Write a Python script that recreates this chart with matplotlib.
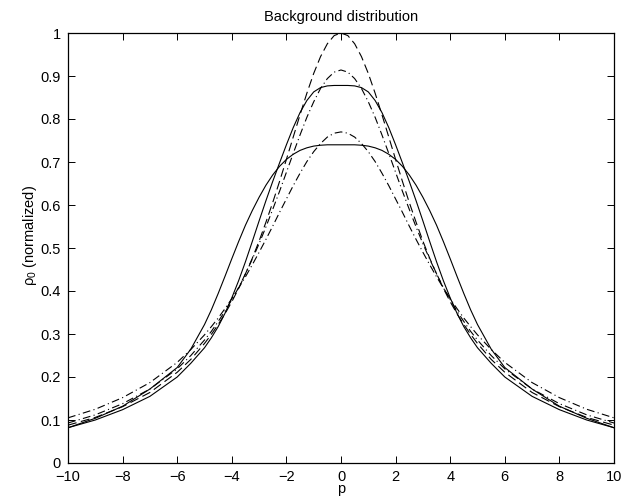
import matplotlib
matplotlib.use("Agg")
import matplotlib.pyplot as plt

plt.rcParams['font.family'] = ['Liberation Sans', 'DejaVu Sans']
plt.rcParams['mathtext.fontset'] = 'custom'
plt.rcParams['mathtext.rm'] = 'Liberation Sans'
plt.rcParams['mathtext.it'] = 'Liberation Sans:italic'

# abscissa
p = [-10, -9, -8, -7, -6, -5.5, -5, -4.75, -4.5, -4.25, -4, -3.75, -3.5, -3.25, -3,
     -2.75, -2.5, -2.25, -2, -1.75, -1.5, -1.25, -1, -0.75, -0.5, -0.25,
     0, 0.25, 0.5, 0.75, 1, 1.25, 1.5, 1.75, 2, 2.25, 2.5, 2.75, 3, 3.25, 3.5,
     3.75, 4, 4.25, 4.5, 4.75, 5, 5.5, 6, 7, 8, 9, 10]

# dashed, peak 1.0
rho_dashed = [0.088, 0.106, 0.131, 0.164, 0.211, 0.241, 0.278, 0.299, 0.322, 0.347, 0.375,
              0.406, 0.440, 0.476, 0.516, 0.560, 0.606, 0.655, 0.706, 0.758, 0.810, 0.860,
              0.906, 0.945, 0.975, 0.994,
              1.000, 0.994, 0.975, 0.945, 0.906, 0.860, 0.810, 0.758, 0.706, 0.655, 0.606,
              0.560, 0.516, 0.476, 0.440, 0.406, 0.375, 0.347, 0.322, 0.299, 0.278, 0.241,
              0.211, 0.164, 0.131, 0.106, 0.088]
# dash-dot, peak 0.91
rho_dashdot_hi = [0.093, 0.112, 0.138, 0.172, 0.219, 0.250, 0.286, 0.306, 0.329, 0.353, 0.380,
                  0.408, 0.440, 0.474, 0.510, 0.549, 0.590, 0.632, 0.676, 0.720, 0.763, 0.804,
                  0.840, 0.871, 0.894, 0.909,
                  0.914, 0.909, 0.894, 0.871, 0.840, 0.804, 0.763, 0.720, 0.676, 0.632, 0.590,
                  0.549, 0.510, 0.474, 0.440, 0.408, 0.380, 0.353, 0.329, 0.306, 0.286, 0.250,
                  0.219, 0.172, 0.138, 0.112, 0.093]
# solid, peak 0.88
rho_solid_hi = [0.082, 0.100, 0.124, 0.155, 0.200, 0.232, 0.268, 0.291, 0.317, 0.348, 0.384,
                0.424, 0.468, 0.515, 0.563, 0.610, 0.655, 0.698, 0.740, 0.780, 0.815, 0.843,
                0.863, 0.873, 0.877, 0.878,
                0.878, 0.878, 0.877, 0.873, 0.863, 0.843, 0.815, 0.780, 0.740, 0.698, 0.655,
                0.610, 0.563, 0.515, 0.468, 0.424, 0.384, 0.348, 0.317, 0.291, 0.268, 0.232,
                0.200, 0.155, 0.124, 0.100, 0.082]
# dash-dot, peak 0.77
rho_dashdot_lo = [0.105, 0.125, 0.152, 0.187, 0.234, 0.264, 0.298, 0.317, 0.337, 0.359, 0.382,
                  0.407, 0.433, 0.461, 0.490, 0.520, 0.551, 0.583, 0.614, 0.645, 0.674, 0.701,
                  0.724, 0.743, 0.758, 0.767,
                  0.770, 0.767, 0.758, 0.743, 0.724, 0.701, 0.674, 0.645, 0.614, 0.583, 0.551,
                  0.520, 0.490, 0.461, 0.433, 0.407, 0.382, 0.359, 0.337, 0.317, 0.298, 0.264,
                  0.234, 0.187, 0.152, 0.125, 0.105]
# solid, peak 0.74
rho_solid_lo = [0.082, 0.104, 0.132, 0.172, 0.222, 0.265, 0.322, 0.356, 0.394, 0.434, 0.475,
                0.515, 0.553, 0.587, 0.618, 0.646, 0.670, 0.690, 0.706, 0.718, 0.727, 0.733,
                0.737, 0.739, 0.740, 0.740,
                0.740, 0.740, 0.740, 0.739, 0.737, 0.733, 0.727, 0.718, 0.706, 0.690, 0.670,
                0.646, 0.618, 0.587, 0.553, 0.515, 0.475, 0.434, 0.394, 0.356, 0.322, 0.265,
                0.222, 0.172, 0.132, 0.104, 0.082]

xticks = [-10, -8, -6, -4, -2, 0, 2, 4, 6, 8, 10]
yticks = [0, 0.1, 0.2, 0.3, 0.4, 0.5, 0.6, 0.7, 0.8, 0.9, 1]
ytick_labels = ['0', '0.1', '0.2', '0.3', '0.4', '0.5', '0.6', '0.7', '0.8', '0.9', '1']

fig = plt.figure(figsize=(6.31, 5.0), dpi=100)
ax = fig.add_axes([68 / 631, 1 - 463 / 500, 546 / 631, 430 / 500])

lw = 0.8
ax.plot(p, rho_dashed, color='black', lw=lw, linestyle=(0, (8, 4)))
ax.plot(p, rho_dashdot_hi, color='black', lw=lw, linestyle=(0, (7, 3, 1, 3)))
ax.plot(p, rho_solid_hi, color='black', lw=lw, linestyle='-')
ax.plot(p, rho_dashdot_lo, color='black', lw=lw, linestyle=(0, (7, 3, 1, 3)))
ax.plot(p, rho_solid_lo, color='black', lw=lw, linestyle='-')

ax.set_xlim(-10, 10)
ax.set_ylim(0, 1)
ax.set_xticks(xticks)
ax.set_yticks(yticks)
ax.set_yticklabels(ytick_labels)
ax.tick_params(direction='in', length=5, width=0.7, top=True, right=True,
               labelsize=10.5, pad=5)
for s in ax.spines.values():
    s.set_linewidth(0.9)

ax.set_title('Background distribution', fontsize=10.5, pad=9)
ax.set_xlabel('p', fontsize=10.5)
ax.xaxis.set_label_coords(0.5, -0.045)
ax.set_ylabel(r'$\mathregular{\rho_0}$ (normalized)', fontsize=10.5)
ax.yaxis.set_label_coords(-0.053, 0.53)

fig.savefig('out.png', dpi=100)
